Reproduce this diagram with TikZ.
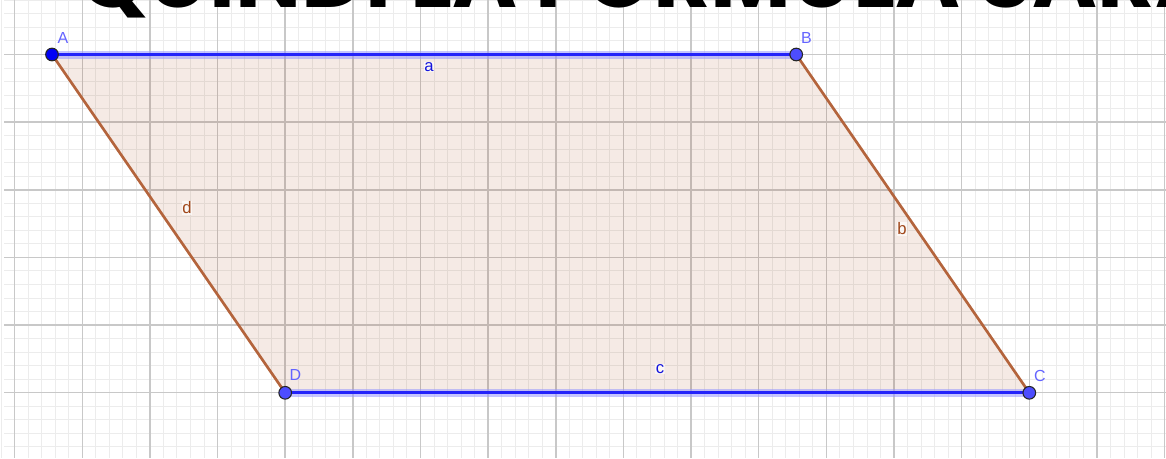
\documentclass[tikz,border=0pt]{standalone}
\usepackage{fontspec}
\setmainfont{Liberation Sans}
\newfontfamily\titlefont{Poppins}
\definecolor{gmajor}{RGB}{200,200,200}
\definecolor{gminor}{RGB}{236,236,236}
\definecolor{edgebrown}{RGB}{180,100,60}
\definecolor{fillbrown}{RGB}{153,51,0}
\definecolor{segblue}{RGB}{35,35,250}
\definecolor{halo}{RGB}{150,150,255}
\definecolor{ptA}{RGB}{0,0,245}
\definecolor{ptB}{RGB}{77,77,255}
\definecolor{ptlabel}{RGB}{100,100,255}
\definecolor{seglabel}{RGB}{20,20,220}
\definecolor{brownlabel}{RGB}{160,70,25}
\tikzset{
  vtx/.style={circle,inner sep=0pt,minimum size=9.5pt,draw=black!85,line width=0.8pt},
  vtxlabel/.style={text=ptlabel,font=\fontsize{12}{12}\selectfont,inner sep=0pt},
  seglab/.style={font=\fontsize{12.5}{12}\selectfont,inner sep=0.5pt,fill=white,fill opacity=0.6,text opacity=1},
  blueseg/.style={line width=2.3pt,draw=segblue},
  haloseg/.style={line width=6pt,draw=halo,opacity=0.55},
  brownseg/.style={line width=2pt,draw=edgebrown}
}
\begin{document}
\begin{tikzpicture}[x=0.75pt,y=-0.75pt]
\useasboundingbox (0,0) rectangle (1166,458);
\begin{scope}
\clip (0,0) rectangle (1166,458);
% minor grid
\foreach \k in {-2,...,86} {
  \draw[gminor,line width=0.75pt] ({14.6+\k*13.53},0) -- ({14.6+\k*13.53},458);
}
\foreach \k in {-4,...,30} {
  \draw[gminor,line width=0.75pt] (4,{54.5+\k*13.53}) -- (1166,{54.5+\k*13.53});
}
% major grid
\foreach \k in {0,...,17} {
  \draw[gmajor,line width=1.1pt] ({14.6+\k*67.65},0) -- ({14.6+\k*67.65},458);
}
\foreach \k in {-1,...,6} {
  \draw[gmajor,line width=1.1pt] (4,{54.5+\k*67.65}) -- (1166,{54.5+\k*67.65});
}
% title
\node[anchor=base west,inner sep=0pt,text depth=0pt,font=\titlefont\bfseries\fontsize{66}{66}\selectfont] (title) at (78,7) {QUINDI LA FORMULA SARÀ};
\end{scope}
% points
\coordinate (pA) at (52,54.5);
\coordinate (pB) at (796.2,54.5);
\coordinate (pC) at (1029.3,392.8);
\coordinate (pD) at (285.2,392.8);
\fill[fillbrown,opacity=0.1] (pA) -- (pB) -- (pC) -- (pD) -- cycle;
\draw[brownseg] (pB) -- (pC);
\draw[brownseg] (pD) -- (pA);
\draw[haloseg] (pA) -- (pB);
\draw[haloseg] (pD) -- (pC);
\draw[blueseg] (pA) -- (pB);
\draw[blueseg] (pD) -- (pC);
\node[vtx,fill=ptA] (A) at (pA) {};
\node[vtx,fill=ptB] (B) at (pB) {};
\node[vtx,fill=ptB] (C) at (pC) {};
\node[vtx,fill=ptB] (D) at (pD) {};
\node[vtxlabel] (lA) at (63,38) {A};
\node[vtxlabel] (lB) at (806.5,38) {B};
\node[vtxlabel] (lC) at (1040,376) {C};
\node[vtxlabel] (lD) at (295.5,375) {D};
\node[seglab,text=seglabel] (la) at (429,67) {a};
\node[seglab,text=seglabel] (lc) at (660,369) {c};
\node[seglab,text=brownlabel] (lb) at (902,229) {b};
\node[seglab,text=brownlabel] (ld) at (187,208) {d};
\end{tikzpicture}
\end{document}
